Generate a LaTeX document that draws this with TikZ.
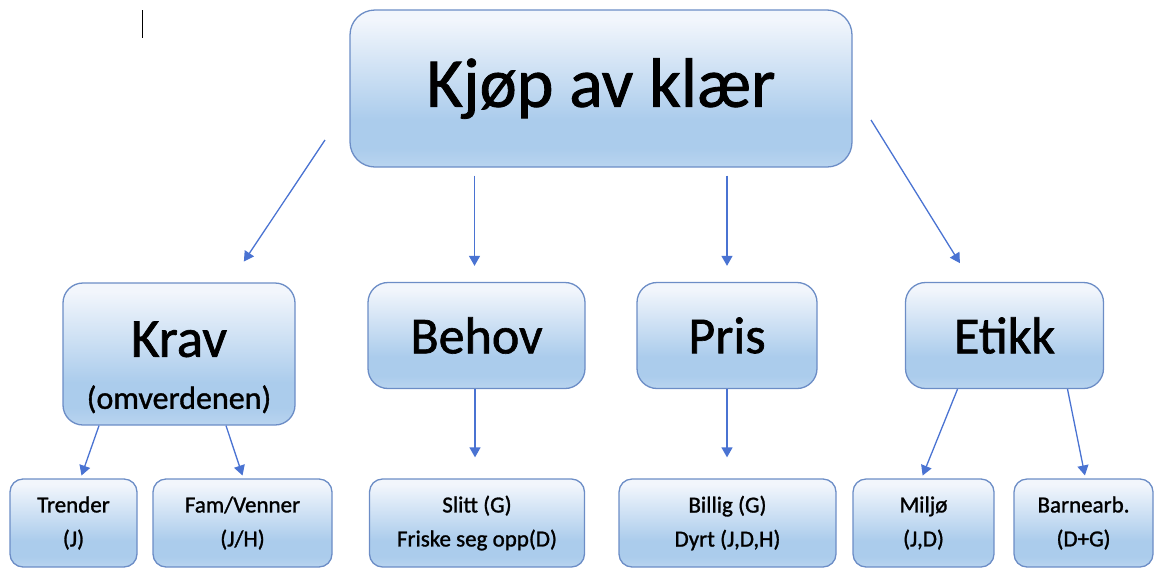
\documentclass[tikz,border=0pt]{standalone}
\usepackage{fontspec}
\setmainfont{Carlito}[FakeBold=1.2]
\usepackage{xcolor}
\usetikzlibrary{arrows.meta}
\definecolor{boxtop}{HTML}{F2F6FC}
\definecolor{boxbot}{HTML}{ABCCEC}
\definecolor{boxedge}{HTML}{6C8DC6}
\definecolor{linkblue}{HTML}{4A73D2}
\pgfdeclareverticalshading{boxshade}{100bp}{color(0bp)=(boxbot!80!boxtop); color(25bp)=(boxbot!80!boxtop); color(31bp)=(boxbot); color(40bp)=(boxbot); color(72bp)=(boxtop); color(100bp)=(boxtop)}

\begin{document}
\begin{tikzpicture}[x=1pt, y=-1pt,
        box/.style = {draw = boxedge, line width = 1.3pt, shading = boxshade, rectangle, inner sep = 0pt, align = center},
        big/.style = {box, rounded corners = 20pt, minimum height = 106pt, font = \fontsize{52}{56}\selectfont},
        small/.style = {box, rounded corners = 13pt, minimum height = 88pt, font = \fontsize{23}{34}\selectfont},
        link/.style = {draw = linkblue, line width = 1.3pt, -{Triangle[width = 11pt, length = 10pt]}}]
        \useasboundingbox (0, 0) rectangle (1155, 568);

        % Nodes
        \node [box, rounded corners = 25pt, minimum width = 502pt, minimum height = 157pt, font = \fontsize{70}{70}\selectfont] (kjop) at (601, 88.5) {Kjøp av klær};

        \node [big, minimum width = 232pt, minimum height = 142pt, font = \fontsize{55}{56}\selectfont] (krav) at (179, 354) {\rule{0pt}{62pt}Krav\\[-4pt]{\fontsize{32}{36}\selectfont (omverdenen)}};
        \node [big, minimum width = 217pt] (behov) at (476.5, 335.5) {Behov};
        \node [big, minimum width = 180pt] (pris) at (727, 335.5) {Pris};
        \node [big, minimum width = 198pt] (etikk) at (1004.5, 335.5) {Etikk};

        \node [small, minimum width = 127pt] (trender) at (73.5, 523) {Trender\\(J)};
        \node [small, minimum width = 179pt] (fam) at (242.5, 523) {Fam/Venner\\(J/H)};
        \node [small, minimum width = 215pt] (slitt) at (477, 523) {Slitt (G)\\Friske seg opp(D)};
        \node [small, minimum width = 217pt] (billig) at (727.5, 523) {Billig (G)\\Dyrt (J,D,H)};
        \node [small, minimum width = 141pt] (miljo) at (923.5, 523) {Miljø\\(J,D)};
        \node [small, minimum width = 139pt] (barn) at (1083.5, 523) {Barnearb.\\(D+G)};

        % Free ends of the links
        \coordinate (kjopleft) at (325, 140);
        \coordinate (kjopright) at (871, 120);

        % Draw the links
        \draw [link, shorten >= 25pt] (kjopleft) -- ([xshift = 51pt]krav.north);
        \draw [link, shorten <= 8pt, shorten >= 16pt] ([xshift = -2pt]kjop.south -| behov.north) -- ([xshift = -2pt]behov.north);
        \draw [link, shorten <= 8pt, shorten >= 16pt] (kjop.south -| pris.north) -- (pris.north);
        \draw [link, shorten >= 22pt] (kjopright) -- ([xshift = -33pt]etikk.north);

        \draw [link, shorten >= 3pt] ([xshift = -80pt]krav.south) -- ([xshift = 7pt]trender.north);
        \draw [link, shorten >= 3pt] ([xshift = 47pt]krav.south) -- ([xshift = 1pt]fam.north);
        \draw [link, shorten >= 21pt] ([xshift = -1.5pt]behov.south) -- ([xshift = -1.5pt]behov.south |- slitt.north);
        \draw [link, shorten >= 21pt] (pris.south) -- (pris.south |- billig.north);
        \draw [link, shorten >= 3pt] ([xshift = -47pt]etikk.south) -- ([xshift = -2pt]miljo.north);
        \draw [link, shorten >= 3pt] ([xshift = 63pt]etikk.south) -- ([xshift = 2pt]barn.north);

        % Cursor mark
        \draw [line width = 1.6pt] (142.5, 10) -- (142.5, 38);
    \end{tikzpicture}
\end{document}
